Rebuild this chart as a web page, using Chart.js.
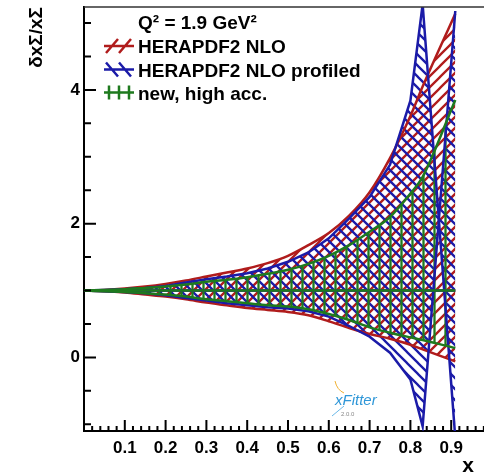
<!DOCTYPE html>
<html>
<head>
<meta charset="utf-8">
<script src="https://cdn.jsdelivr.net/npm/chart.js@4.4.1/dist/chart.umd.min.js"></script>
<style>
  html, body { margin: 0; padding: 0; background: #fff; overflow: hidden; }
  #wrap { width: 484px; height: 476px; overflow: hidden; }
  canvas { display: block; }
</style>
</head>
<body>
<div id="wrap"><canvas id="ratioChart" width="500" height="476"></canvas></div>
<script>
// --- Data: relative uncertainty bands of xSigma at Q2 = 1.9 GeV2 ---
const xGrid = [0, 0.05, 0.1, 0.15, 0.2, 0.25, 0.3, 0.35, 0.4, 0.45, 0.5, 0.55, 0.6, 0.65, 0.7, 0.75, 0.8, 0.83, 0.91];
const nloUpper = [1.0, 1.01, 1.03, 1.06, 1.1, 1.15, 1.21, 1.27, 1.33, 1.41, 1.52, 1.68, 1.86, 2.12, 2.47, 2.98, 3.61, 4.05, 5.14];
const nloLower = [1.0, 0.99, 0.97, 0.94, 0.91, 0.87, 0.82, 0.78, 0.74, 0.71, 0.68, 0.63, 0.54, 0.44, 0.35, 0.28, 0.19, 0.12, -0.06];
const profiledUpper = [1.0, 1.01, 1.02, 1.04, 1.07, 1.12, 1.17, 1.21, 1.26, 1.33, 1.43, 1.57, 1.78, 2.08, 2.4, 2.88, 3.84, 5.28, -1.2];
const profiledLower = [1.0, 0.99, 0.98, 0.96, 0.93, 0.89, 0.85, 0.81, 0.78, 0.75, 0.73, 0.69, 0.61, 0.47, 0.31, 0.07, -0.33, -1.03, 5.18];
const newUpper = [1.0, 1.01, 1.02, 1.04, 1.06, 1.09, 1.13, 1.16, 1.2, 1.25, 1.31, 1.4, 1.52, 1.68, 1.88, 2.1, 2.45, 2.7, 3.85];
const newLower = [1.0, 0.99, 0.98, 0.96, 0.94, 0.91, 0.87, 0.84, 0.81, 0.78, 0.76, 0.72, 0.65, 0.56, 0.45, 0.37, 0.3, 0.26, 0.14];
const centralRatio = [1, 1, 1, 1, 1, 1, 1, 1, 1, 1, 1, 1, 1, 1, 1, 1, 1, 1, 1];

const seriesNames = ["HERAPDF2 NLO", "HERAPDF2 NLO profiled", "new, high acc."];
const legendTitle = "Q\u00b2 = 1.9 GeV\u00b2";
const xTickValues = [0.1, 0.2, 0.3, 0.4, 0.5, 0.6, 0.7, 0.8, 0.9];
const yTickValues = [0, 2, 4];

const RED = "#b01c1c";
const BLUE = "#1b1ba8";
const GREEN = "#1e7a1e";
const FONT = "Liberation Sans";

// --- Hatch fill patterns ---
function hatch(color, kind, size) {
  const c = document.createElement("canvas");
  c.width = size;
  c.height = size;
  const g = c.getContext("2d");
  g.strokeStyle = color;
  g.lineWidth = 2.3;
  g.beginPath();
  if (kind === "/") {
    g.moveTo(-2, size + 2); g.lineTo(size + 2, -2);
    g.moveTo(-2, 2); g.lineTo(2, -2);
    g.moveTo(size - 2, size + 2); g.lineTo(size + 2, size - 2);
  } else if (kind === "\\") {
    g.moveTo(-2, -2); g.lineTo(size + 2, size + 2);
    g.moveTo(size - 2, -2); g.lineTo(size + 2, 2);
    g.moveTo(-2, size - 2); g.lineTo(2, size + 2);
  } else {
    g.moveTo(size / 2, 0); g.lineTo(size / 2, size);
  }
  g.stroke();
  return g.createPattern(c, "repeat");
}

function points(values) {
  return xGrid.map((x, i) => ({ x, y: values[i] }));
}

function band(label, upper, lower, color, kind, size, smooth) {
  const base = {
    borderColor: color,
    borderWidth: 2.5,
    pointRadius: 0,
    cubicInterpolationMode: smooth ? "monotone" : "default",
    tension: 0,
  };
  return [
    { ...base, label, data: points(upper), fill: "+1", backgroundColor: hatch(color, kind, size) },
    { ...base, label: label + " lower", data: points(lower), fill: false },
    { ...base, label: label + " central", data: points(centralRatio), fill: false },
  ];
}

// --- Inward ticks, frame, legend and labels ---
const decorations = {
  id: "decorations",
  afterDraw(chart) {
    const ctx = chart.ctx;
    const area = chart.chartArea;
    const xs = chart.scales.x;
    const ys = chart.scales.y;
    ctx.save();

    // top frame
    ctx.strokeStyle = "#333";
    ctx.lineWidth = 1.5;
    ctx.beginPath();
    ctx.moveTo(area.left, area.top);
    ctx.lineTo(area.right, area.top);
    ctx.stroke();

    // tick marks pointing into the frame
    ctx.strokeStyle = "#000";
    ctx.lineWidth = 2;
    ctx.beginPath();
    for (let i = 1; i < 50; i++) {
      const px = xs.getPixelForValue(i * 0.02);
      const len = i % 5 === 0 ? 11 : 5;
      ctx.moveTo(px, area.bottom);
      ctx.lineTo(px, area.bottom - len);
    }
    for (let v = -1; v <= 5; v += 0.5) {
      const py = ys.getPixelForValue(v);
      const len = v % 2 === 0 ? 12 : 7;
      ctx.moveTo(area.left, py);
      ctx.lineTo(area.left + len, py);
    }
    ctx.stroke();

    // x axis title
    ctx.fillStyle = "#000";
    ctx.font = `bold 21px "${FONT}"`;
    ctx.textAlign = "right";
    ctx.textBaseline = "alphabetic";
    ctx.fillText("x", 474, 472);

    // legend
    ctx.textAlign = "left";
    ctx.font = `bold 19px "${FONT}"`;
    ctx.fillText(legendTitle, 138, 29);
    const rows = [
      { color: RED, kind: "/", base: 53 },
      { color: BLUE, kind: "\\", base: 76.5 },
      { color: GREEN, kind: "|", base: 99.5 },
    ];
    rows.forEach((row, i) => {
      ctx.fillStyle = "#000";
      ctx.fillText(seriesNames[i], 138, row.base);
      const x0 = 104, top = row.base - 14, bottom = row.base;
      ctx.strokeStyle = row.color;
      ctx.lineWidth = 2.5;
      ctx.beginPath();
      ctx.moveTo(x0, top + 7);
      ctx.lineTo(x0 + 30, top + 7);
      if (row.kind === "/") {
        [2, 15].forEach((dx) => { ctx.moveTo(x0 + dx, bottom); ctx.lineTo(x0 + dx + 12, top); });
      } else if (row.kind === "\\") {
        [2, 15].forEach((dx) => { ctx.moveTo(x0 + dx, top); ctx.lineTo(x0 + dx + 12, bottom); });
      } else {
        [5, 15, 25].forEach((dx) => { ctx.moveTo(x0 + dx, top); ctx.lineTo(x0 + dx, bottom); });
      }
      ctx.stroke();
    });

    // small xFitter mark
    ctx.strokeStyle = "#f0b030";
    ctx.lineWidth = 1;
    ctx.beginPath();
    ctx.moveTo(335, 381);
    ctx.quadraticCurveTo(337, 390, 344, 393);
    ctx.stroke();
    ctx.strokeStyle = "#6ab8e8";
    ctx.beginPath();
    ctx.moveTo(332, 416);
    ctx.lineTo(344, 406);
    ctx.stroke();
    ctx.fillStyle = "#2f97d8";
    ctx.font = `italic 15px "${FONT}"`;
    ctx.fillText("xFitter", 335, 405);
    ctx.fillStyle = "#888";
    ctx.font = `6px "${FONT}"`;
    ctx.fillText("2.0.0", 341, 416);

    ctx.restore();
  },
};

// --- Chart ---
const ctx = document.getElementById("ratioChart").getContext("2d");
new Chart(ctx, {
  type: "line",
  data: {
    datasets: [
      ...band(seriesNames[2], newUpper, newLower, GREEN, "|", 11, true),
      ...band(seriesNames[1], profiledUpper, profiledLower, BLUE, "\\", 11, false),
      ...band(seriesNames[0], nloUpper, nloLower, RED, "/", 11, true),
    ],
  },
  options: {
    responsive: false,
    animation: false,
    events: [],
    devicePixelRatio: 1,
    layout: { padding: { top: 7, right: 8, bottom: 0, left: 0 } },
    plugins: {
      legend: { display: false },
      tooltip: { enabled: false },
      filler: { drawTime: "beforeDatasetsDraw" },
    },
    scales: {
      x: {
        type: "linear",
        min: 0,
        max: 1,
        grid: { display: false, drawTicks: false },
        border: { display: true, color: "#000", width: 2 },
        ticks: {
          stepSize: 0.1,
          includeBounds: false,
          autoSkip: false,
          maxRotation: 0,
          padding: 7,
          color: "#000",
          font: { family: FONT, size: 17, weight: "bold" },
          callback: (v) => (xTickValues.some((t) => Math.abs(t - v) < 1e-6) ? v.toFixed(1) : ""),
        },
        afterFit: (s) => {
          s.height = 45;
          s.paddingLeft = 0;
          s.paddingRight = 0;
        },
      },
      y: {
        min: -1.1,
        max: 5.24,
        grid: { display: false, drawTicks: false },
        border: { display: true, color: "#000", width: 2 },
        ticks: {
          stepSize: 2,
          includeBounds: false,
          padding: 4,
          color: "#000",
          font: { family: FONT, size: 17, weight: "bold" },
          callback: (v) => (yTickValues.includes(v) ? String(v) : ""),
        },
        title: {
          display: true,
          text: "\u03b4x\u03a3/x\u03a3",
          align: "end",
          color: "#000",
          padding: { top: 25, bottom: 0 },
          font: { family: FONT, size: 19, weight: "bold" },
        },
        afterFit: (s) => {
          s.width = 84;
          s.paddingTop = 0;
          s.paddingBottom = 0;
        },
      },
    },
  },
  plugins: [decorations],
});
</script>
</body>
</html>
